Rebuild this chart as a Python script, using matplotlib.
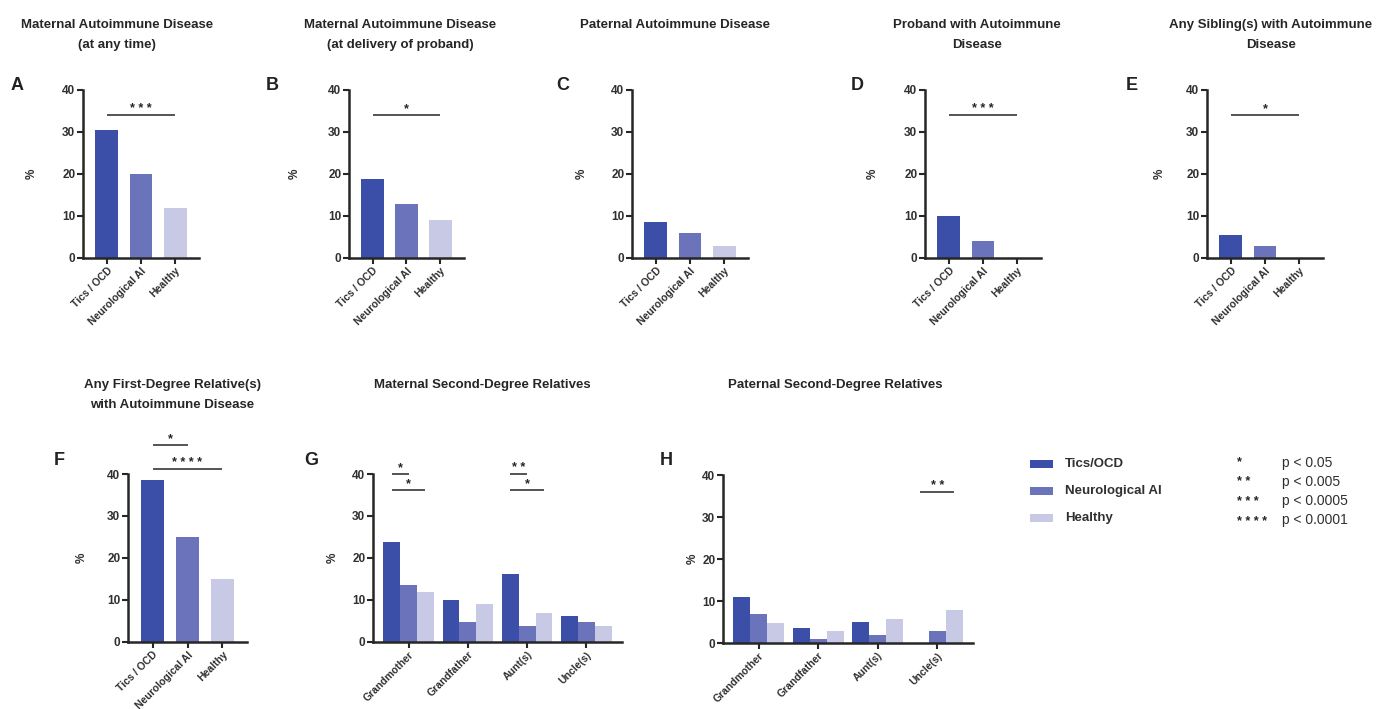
import matplotlib
matplotlib.use("Agg")
import matplotlib.pyplot as plt
import numpy as np
from matplotlib.patches import Rectangle

plt.rcParams['font.family'] = ['Liberation Sans', 'DejaVu Sans']

# ---------------- data ----------------
groups = ["Tics / OCD", "Neurological AI", "Healthy"]
series = ["Tics/OCD", "Neurological AI", "Healthy"]
relatives = ["Grandmother", "Grandfather", "Aunt(s)", "Uncle(s)"]

maternal_any = [30.4, 19.9, 12.0]
maternal_delivery = [18.9, 12.8, 9.0]
paternal = [8.5, 6.0, 2.8]
proband = [10.0, 4.0, 0.0]
sibling = [5.4, 2.9, 0.0]
first_degree = [38.6, 25.1, 15.0]

maternal_2nd_tics = [23.9, 10.1, 16.1, 6.3]
maternal_2nd_neuro = [13.5, 4.7, 3.8, 4.7]
maternal_2nd_healthy = [11.8, 9.0, 6.8, 3.8]
paternal_2nd_tics = [11.0, 3.6, 4.9, 0.0]
paternal_2nd_neuro = [7.0, 1.0, 1.8, 2.8]
paternal_2nd_healthy = [4.8, 2.8, 5.8, 7.8]

# significance: (bar i, bar j, height, stars) ; grouped: (group, bar i, bar j, height, stars)
sig_A = [(0, 2, 34, '***')]
sig_B = [(0, 2, 34, '*')]
sig_C = []
sig_D = [(0, 2, 34, '***')]
sig_E = [(0, 2, 34, '*')]
sig_F = [(0, 1, 46.9, '*'), (0, 2, 41.2, '****')]
sig_G = [(0, 0, 1, 40, '*'), (0, 0, 2, 36.2, '*'), (2, 0, 1, 40, '**'), (2, 0, 2, 36.2, '*')]
sig_H = [(3, 0, 2, 36, '**')]

p_stars = ['*', '**', '***', '****']
p_labels = ['p < 0.05', 'p < 0.005', 'p < 0.0005', 'p < 0.0001']

titles = {
    'A': "Maternal Autoimmune Disease\n(at any time)",
    'B': "Maternal Autoimmune Disease\n(at delivery of proband)",
    'C': "Paternal Autoimmune Disease",
    'D': "Proband with Autoimmune\nDisease",
    'E': "Any Sibling(s) with Autoimmune\nDisease",
    'F': "Any First-Degree Relative(s)\nwith Autoimmune Disease",
    'G': "Maternal Second-Degree Relatives",
    'H': "Paternal Second-Degree Relatives",
}

# ---------------- style ----------------
colors = ['#3B4FA9', '#6B74BA', '#C7C9E5']
ink = '#262626'
W, H = 1385, 709

fig = plt.figure(figsize=(W / 100, H / 100), dpi=100)
fig.patch.set_facecolor('white')


def px(x, y):
    return x / W, 1 - y / H


def add_ax(x0, x1, ytop, ybot):
    return fig.add_axes([x0 / W, 1 - ybot / H, (x1 - x0) / W, (ybot - ytop) / H])


def style(ax, width_px, ylab_off):
    for s in ['top', 'right']:
        ax.spines[s].set_visible(False)
    for s in ['left', 'bottom']:
        ax.spines[s].set_linewidth(1.8)
        ax.spines[s].set_color(ink)
    ax.set_ylim(0, 40)
    ax.set_yticks([0, 10, 20, 30, 40])
    ax.tick_params(axis='both', direction='out', length=4, width=1.5, color=ink,
                   labelcolor='#303030', pad=1.5)
    ax.tick_params(axis='y', labelsize=8.5)
    for lab in ax.get_yticklabels():
        lab.set_fontweight('bold')
    ax.set_ylabel('%', fontsize=8.5, fontweight='bold', color='#303030', va='center')
    ax.yaxis.set_label_coords(-ylab_off / width_px, 0.5)


def sig(ax, x1, x2, y, stars, fs=9):
    ax.plot([x1, x2], [y, y], color=ink, lw=1.1, clip_on=False, solid_capstyle='butt')
    ax.annotate(' '.join(stars), xy=((x1 + x2) / 2, y), xytext=(0, 0.2),
                textcoords='offset points', ha='center', va='bottom',
                fontsize=fs, fontweight='bold', color=ink, annotation_clip=False)


def simple_panel(rect, vals, sigs, ylab_off):
    x0, x1, yt, yb = rect
    ax = add_ax(x0, x1, yt, yb)
    x = np.arange(len(groups))
    ax.bar(x, vals, width=0.67, color=colors)
    ax.set_xlim(-0.7, 2.7)
    ax.set_xticks(x)
    ax.set_xticklabels(groups, rotation=45, ha='right', rotation_mode='anchor',
                       fontsize=7.5, fontweight='bold')
    style(ax, x1 - x0, ylab_off)
    for i, j, y, st in sigs:
        sig(ax, x[i], x[j], y, st)
    return ax


def grouped_panel(rect, tics, neuro, healthy, sigs, ylab_off):
    x0, x1, yt, yb = rect
    ax = add_ax(x0, x1, yt, yb)
    x = np.arange(len(relatives))
    bw = 0.283
    for k, vals in enumerate([tics, neuro, healthy]):
        ax.bar(x + (k - 1) * bw, vals, width=bw, color=colors[k], label=series[k])
    ax.set_xlim(-0.6, 3.6)
    ax.set_xticks(x)
    ax.set_xticklabels(relatives, rotation=45, ha='right', rotation_mode='anchor',
                       fontsize=7.5, fontweight='bold')
    style(ax, x1 - x0, ylab_off)
    for g, i, j, y, st in sigs:
        sig(ax, g + (i - 1) * bw, g + (j - 1) * bw, y, st)
    return ax


# top row
simple_panel((83, 199, 90, 258), maternal_any, sig_A, 51)
simple_panel((349, 464, 90, 258), maternal_delivery, sig_B, 54)
simple_panel((632, 748, 90, 258), paternal, sig_C, 50)
simple_panel((925, 1041, 90, 258), proband, sig_D, 52)
simple_panel((1207, 1323, 90, 258), sibling, sig_E, 47)
# bottom row
simple_panel((128, 247, 474, 642), first_degree, sig_F, 46)
grouped_panel((373, 622, 474, 642), maternal_2nd_tics, maternal_2nd_neuro,
              maternal_2nd_healthy, sig_G, 40)
grouped_panel((723, 973, 475, 643), paternal_2nd_tics, paternal_2nd_neuro,
              paternal_2nd_healthy, sig_H, 30)

# titles
title_pos = {'A': (117, 28), 'B': (400, 28), 'C': (675, 28), 'D': (977, 28),
             'E': (1271, 28), 'F': (172, 388), 'G': (482, 388), 'H': (835, 388)}
for key, txt in titles.items():
    cx, by = title_pos[key]
    for n, line in enumerate(txt.split('\n')):
        fig.text(*px(cx, by + 20 * n), line, ha='center', va='baseline',
                 fontsize=9.5, fontweight='bold', color='#262626')

# panel letters
letter_pos = {'A': (17, 90), 'B': (272, 90), 'C': (563, 90), 'D': (857, 90),
              'E': (1132, 90), 'F': (59, 465), 'G': (311, 465), 'H': (666, 465)}
for key, (cx, by) in letter_pos.items():
    fig.text(*px(cx, by), key, ha='center', va='baseline', fontsize=13,
             fontweight='bold', color='#222222')

# legend (groups)
for k, name in enumerate(series):
    yc = 464 + 27 * k
    fx, fy = px(1030, yc + 4)
    fig.add_artist(Rectangle((fx, fy), 23 / W, 8 / H, transform=fig.transFigure,
                             facecolor=colors[k], edgecolor='none'))
    fig.text(*px(1065, yc), name, ha='left', va='center', fontsize=9.5,
             fontweight='bold', color='#303030')

# legend (p-values)
for k, (st, lab) in enumerate(zip(p_stars, p_labels)):
    fig.text(*px(1237, 465 + 20 * k), ' '.join(st), ha='left', va='baseline',
             fontsize=9, fontweight='bold', color=ink)
    fig.text(*px(1282, 463 + 19 * k), lab, ha='left', va='center', fontsize=10,
             color='#303030')

fig.savefig('out.png', dpi=100, facecolor='white')
